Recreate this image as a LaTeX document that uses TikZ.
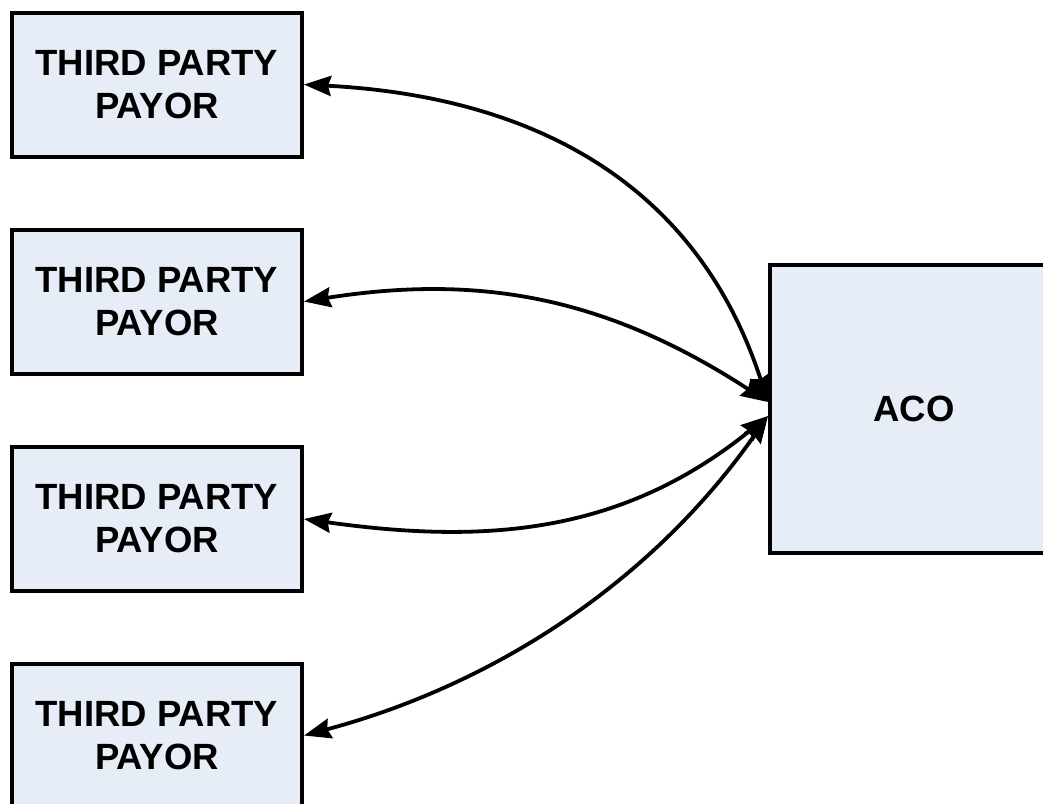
\documentclass[tikz,border=0pt]{standalone}
\usepackage{fontspec}
\setmainfont{Liberation Sans}
\usetikzlibrary{arrows.meta}
\definecolor{boxfill}{RGB}{230,237,247}
\tikzset{
  payor/.style={draw=black, line width=4pt, fill=boxfill, minimum width=290pt, minimum height=144pt,
    inner sep=0pt, align=center, font=\fontsize{36.5}{43}\selectfont\bfseries},
  acobox/.style={draw=black, line width=4pt, fill=boxfill, minimum width=288pt, minimum height=288pt,
    inner sep=0pt, font=\fontsize{36.5}{43}\selectfont\bfseries},
  link/.style={line width=3.8pt, {Stealth[length=27pt,width=20pt,inset=3pt]}-{Stealth[length=27pt,width=20pt,inset=3pt]}}
}
\begin{document}
\begin{tikzpicture}[x=1pt,y=1pt]
\useasboundingbox (0,0) rectangle (1043,-803);
\node[payor] (p1) at (157,-84.5) {THIRD PARTY\\PAYOR};
\node[payor] (p2) at (157,-301.5) {THIRD PARTY\\PAYOR};
\node[payor] (p3) at (157,-519) {THIRD PARTY\\PAYOR};
\node[payor] (p4) at (157,-735.5) {THIRD PARTY\\PAYOR};
\node[acobox] (aco) at (914,-409) {ACO};
\draw[link] (p1.east) .. controls +(-3:230) and +(108:230) .. ([yshift=7pt]aco.west);
\draw[link] (p2.east) to[out=9,in=147] ([yshift=7pt]aco.west);
\draw[link] (p3.east) to[out=-8,in=-141] ([yshift=-7pt]aco.west);
\draw[link] (p4.east) .. controls +(15:200) and +(-125:200) .. ([yshift=-7pt]aco.west);
\end{tikzpicture}
\end{document}
